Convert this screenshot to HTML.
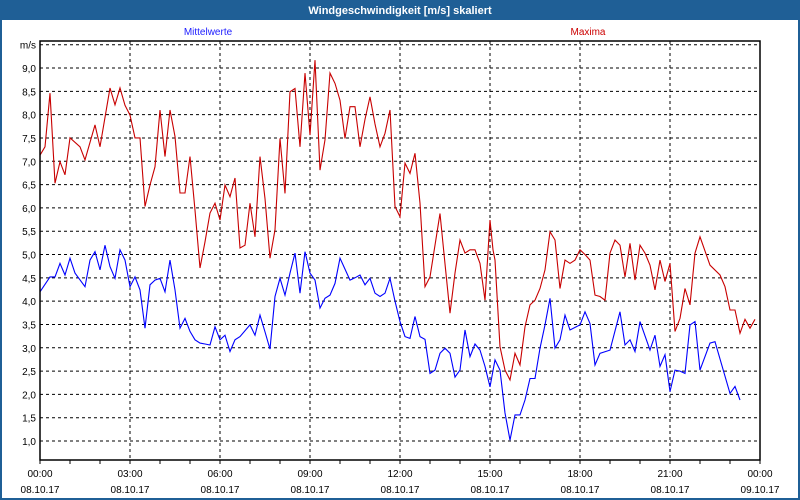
<!DOCTYPE html>
<html><head><meta charset="utf-8"><style>
html,body{margin:0;padding:0;background:#fff}
#wrap{position:relative;width:800px;height:500px;overflow:hidden;font-family:"Liberation Sans",sans-serif}
svg text{font-family:"Liberation Sans",sans-serif}
</style></head><body>
<div id="wrap">
<svg id="chart" width="800" height="500" xmlns="http://www.w3.org/2000/svg">
<rect x="0" y="0" width="800" height="500" fill="#1f5f96"/>
<rect x="2" y="20" width="796" height="478" fill="#fff"/>
<text x="400" y="14" fill="#fff" font-size="11" font-weight="bold" text-anchor="middle">Windgeschwindigkeit [m/s] skaliert</text>
<text x="208" y="35" fill="#2020ff" font-size="10" text-anchor="middle">Mittelwerte</text>
<text x="588" y="35" fill="#cc0000" font-size="10" text-anchor="middle">Maxima</text>
<g id="grid"></g><g id="series"></g><g id="axes"></g>
</svg>
</div>
<script>
const yTicks=[1.0,1.5,2.0,2.5,3.0,3.5,4.0,4.5,5.0,5.5,6.0,6.5,7.0,7.5,8.0,8.5,9.0];
const xTickTimes=["00:00","03:00","06:00","09:00","12:00","15:00","18:00","21:00","00:00"];
const xTickDates=["08.10.17","08.10.17","08.10.17","08.10.17","08.10.17","08.10.17","08.10.17","08.10.17","09.10.17"];
// minutes since 08.10.17 00:00
const maxTimes=[0,10,20,23,30,40,50,60,80,90,110,120,140,150,160,170,180,190,200,210,220,230,240,250,260,270,280,290,300,310,320,330,340,350,360,370,380,390,400,410,420,430,440,450,460,470,480,490,500,510,520,530,540,550,560,570,580,590,600,610,620,630,640,650,660,670,680,690,700,710,720,730,740,750,760,770,780,790,800,810,820,830,840,850,860,870,880,890,900,906,910,920,930,940,950,960,970,980,990,1000,1010,1020,1030,1040,1050,1060,1070,1080,1090,1100,1110,1120,1130,1140,1150,1160,1170,1180,1190,1200,1210,1220,1230,1240,1250,1260,1270,1280,1290,1300,1310,1320,1340,1360,1370,1380,1390,1400,1410,1420,1430];
const maxValues=[7.13,7.31,8.46,7.88,6.53,6.99,6.71,7.5,7.31,7.03,7.78,7.31,8.57,8.21,8.57,8.2,7.99,7.5,7.5,6.03,6.49,6.88,8.1,7.1,8.1,7.53,6.32,6.32,7.1,5.95,4.71,5.27,5.89,6.1,5.74,6.49,6.24,6.64,5.14,5.2,6.1,5.38,7.1,6.2,4.92,5.53,7.49,6.31,8.49,8.56,7.31,8.89,7.56,9.17,6.81,7.46,8.89,8.67,8.31,7.49,8.17,8.17,7.31,7.9,8.38,7.8,7.31,7.6,8.1,6.03,5.81,6.96,6.74,7.17,6.1,4.31,4.52,5.2,5.88,4.8,3.74,4.6,5.31,5.03,5.1,5.1,4.81,4.02,5.74,5.1,4.88,3.02,2.52,2.31,2.88,2.63,3.45,3.92,4.02,4.27,4.67,5.49,5.31,4.27,4.88,4.81,4.88,5.1,5.0,4.88,4.13,4.1,4.02,5.03,5.31,5.2,4.52,5.24,4.45,5.2,5.03,4.77,4.24,4.88,4.42,4.81,3.35,3.63,4.27,3.92,5.03,5.38,4.77,4.56,4.31,3.81,3.81,3.31,3.61,3.42,3.61,3.24];
const meanTimes=[0,20,30,40,50,60,70,90,100,110,120,130,140,150,160,170,180,190,200,210,220,230,240,250,260,270,280,290,300,310,320,330,340,350,360,370,380,390,400,420,430,440,450,460,470,480,490,500,510,520,530,540,550,560,570,580,590,600,620,630,640,650,660,670,680,690,700,710,720,730,740,750,760,770,780,790,800,810,820,830,840,850,860,870,880,890,900,910,920,930,940,950,960,970,980,990,1000,1010,1020,1030,1040,1050,1060,1080,1090,1100,1110,1120,1140,1160,1170,1180,1190,1200,1220,1230,1240,1250,1260,1270,1280,1290,1300,1310,1320,1340,1350,1380,1390,1400,1420,1430];
const meanValues=[4.2,4.52,4.52,4.81,4.56,4.92,4.6,4.31,4.88,5.06,4.67,5.2,4.74,4.49,5.1,4.88,4.31,4.52,4.24,3.42,4.35,4.45,4.49,4.2,4.88,4.24,3.42,3.63,3.35,3.17,3.1,3.08,3.06,3.45,3.17,3.27,2.92,3.17,3.24,3.49,3.27,3.7,3.34,2.97,4.1,4.49,4.13,4.6,5.03,4.17,5.06,4.6,4.45,3.85,4.06,4.13,4.38,4.92,4.45,4.5,4.56,4.35,4.49,4.17,4.1,4.17,4.49,4.0,3.56,3.24,3.2,3.67,3.24,3.18,2.45,2.52,2.88,2.99,2.88,2.37,2.52,3.38,2.81,3.08,2.95,2.6,2.16,2.74,2.52,1.6,1.02,1.56,1.56,1.88,2.34,2.34,2.99,3.49,4.06,2.99,3.17,3.7,3.38,3.49,3.77,3.52,2.63,2.88,2.95,3.77,3.06,3.17,2.92,3.56,2.95,3.27,2.6,2.85,2.06,2.52,2.5,2.45,3.49,3.56,2.52,3.1,3.13,2.02,2.17,1.88];

const L=40,R=760,T=41,B=460;
const xs=m=>L+(m/1440)*(R-L);
const ys=v=>68+(9-v)*46.625;
const NS="http://www.w3.org/2000/svg";
function mk(tag,attrs,parent){const e=document.createElementNS(NS,tag);for(const k in attrs)e.setAttribute(k,attrs[k]);parent.appendChild(e);return e;}
const grid=document.getElementById('grid'),axes=document.getElementById('axes'),series=document.getElementById('series');
// horizontal gridlines incl. 9.5 (m/s row)
const hLines=yTicks.concat([9.5]);
hLines.forEach(v=>{const l=mk('line',{x1:L,x2:R,y1:ys(v),y2:ys(v),stroke:'#000','stroke-width':1,'stroke-dasharray':'3,3'},grid);

});
yTicks.forEach(v=>{const t=mk('text',{x:36,y:ys(v)+4,'font-size':10,'text-anchor':'end',fill:'#000'},axes);t.textContent=v.toFixed(1).replace('.',',');

});
const unit=mk('text',{x:36,y:ys(9.5)+4,'font-size':10,'text-anchor':'end',fill:'#000'},axes);unit.textContent='m/s';


xTickTimes.forEach((lab,i)=>{const m=i*180;const x=xs(m);
if(i>0&&i<xTickTimes.length-1){const g=mk('line',{x1:x,x2:x,y1:T,y2:B,stroke:'#000','stroke-width':1,'stroke-dasharray':'3,3'},grid);

}
const t=mk('text',{x:x,y:477,'font-size':10,'text-anchor':'middle',fill:'#000'},axes);t.textContent=lab;


const d=mk('text',{x:x,y:493,'font-size':10,'text-anchor':'middle',fill:'#000'},axes);d.textContent=xTickDates[i];

});
for(let h=0;h<=24;h++){const x=xs(h*60);const tk=mk('line',{x1:x,x2:x,y1:B,y2:B+4,stroke:'#000','stroke-width':1},axes);

}
const frame=mk('rect',{x:L,y:T,width:R-L,height:B-T,fill:'none',stroke:'#000','stroke-width':1.5},axes);


function poly(times,vals,color,name){const pts=times.map((m,i)=>xs(m).toFixed(1)+','+ys(vals[i]).toFixed(1)).join(' ');
const p=mk('polyline',{points:pts,fill:'none',stroke:color,'stroke-width':1.1,'stroke-linejoin':'miter'},series);

}
poly(maxTimes,maxValues,'#c80000','maxima-line');
poly(meanTimes,meanValues,'#0000ff','mittelwerte-line');
</script>
</body></html>
